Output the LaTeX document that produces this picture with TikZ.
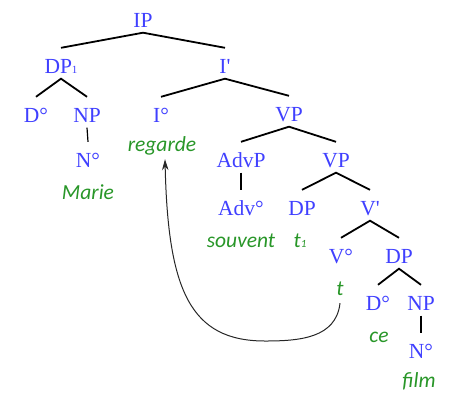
\documentclass[tikz,border=0pt]{standalone}
\usepackage{fontspec}
\setmainfont{Liberation Serif}
\newfontfamily\wordfont{Carlito}
\usetikzlibrary{arrows.meta}
\definecolor{catblue}{RGB}{64,64,255}
\definecolor{wordgreen}{RGB}{40,150,40}
\newcommand{\smallsub}[1]{\raisebox{-0.5pt}{\fontsize{11}{12}\selectfont #1}}
\begin{document}
\begin{tikzpicture}[x=1pt,y=-1pt,
  cat/.style={anchor=base,inner sep=0pt,text height=25pt,text depth=5.5pt,text=catblue,font=\fontsize{21.5}{24}\selectfont},
  word/.style={anchor=base,inner sep=0pt,text height=12pt,text depth=8pt,text=wordgreen,font=\wordfont\itshape\fontsize{21.5}{24}\selectfont},
  branch/.style={draw=black,line width=1.8pt},
  move/.style={draw=black!85,line width=1pt,-{Stealth[length=11pt,width=6.5pt]}}]
\useasboundingbox (0,0) rectangle (454,397);
% categories
\node[cat] (IP)   at (143,27)  {IP};
\node[cat] (DP1)  at (61,73)   {DP\smallsub{1}};
\node[cat] (Ib)   at (225,73)  {I\textquotesingle};
\node[cat] (D1)   at (36,122)  {D°};
\node[cat] (NP1)  at (87,122)  {NP};
\node[cat] (I0)   at (161,122) {I°};
\node[cat] (VP1)  at (289,121) {VP};
\node[cat] (N1)   at (88,167)  {N°};
\node[cat] (AdvP) at (241,167) {AdvP};
\node[cat] (VP2)  at (336,167) {VP};
\node[cat] (Adv0) at (241,215) {Adv°};
\node[cat] (DP2)  at (302,215) {DP};
\node[cat] (Vb)   at (370,215) {V\textquotesingle};
\node[cat] (V0)   at (341,263) {V°};
\node[cat] (DP3)  at (399,263) {DP};
\node[cat] (D2)   at (378,310) {D°};
\node[cat] (NP2)  at (421,310) {NP};
\node[cat] (N2)   at (421,358) {N°};
% words
\node[word] (regarde) at (162,151) {regarde};
\node[word] (Marie)   at (88,199)  {Marie};
\node[word] (souvent) at (241,247) {souvent};
\node[word] (t1)      at (300,247) {t\smallsub{1}};
\node[word] (t)       at (340,295) {t};
\node[word] (ce)      at (379,342) {ce};
\node[word] (film)    at (419,387) {film};
% branches
\draw[branch] (DP1.north) -- (IP.south) -- (Ib.north);
\draw[branch] (D1.north) -- (DP1.south) -- (NP1.north);
\draw[branch,line width=1.2pt] (NP1.south) -- (N1.north);
\draw[branch] (I0.north) -- (Ib.south) -- (VP1.north);
\draw[branch] (AdvP.north) -- (VP1.south) -- (VP2.north);
\draw[branch,line width=1.2pt] (AdvP.south) -- (Adv0.north);
\draw[branch] (DP2.north) -- (VP2.south) -- (Vb.north);
\draw[branch] (V0.north) -- (Vb.south) -- (DP3.north);
\draw[branch] (D2.north) -- (DP3.south) -- (NP2.north);
\draw[branch,line width=1.2pt] (NP2.south) -- (N2.north);
% movement
\draw[move] (t.south) .. controls (336,338) and (300,341) .. (265,341)
  .. controls (190,341) and (168,290) .. ([xshift=3pt]regarde.south);
\end{tikzpicture}
\end{document}
